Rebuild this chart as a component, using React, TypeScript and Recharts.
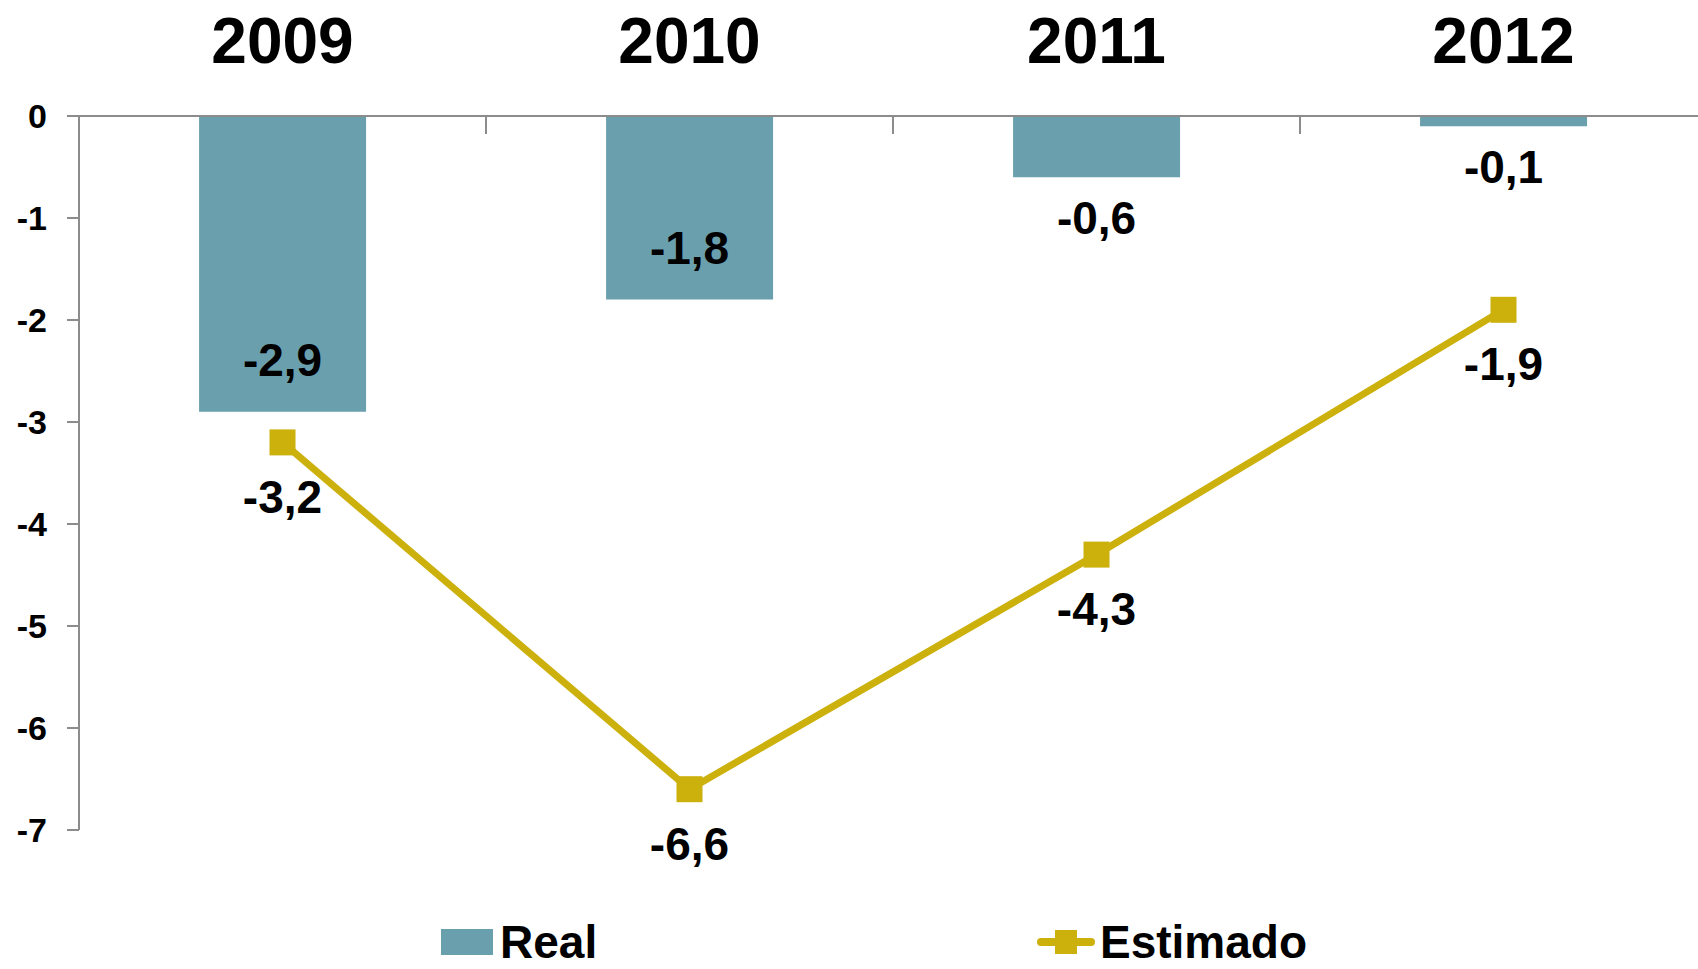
import React from 'react';
import { ComposedChart, Bar, Line, XAxis, YAxis, Legend, LabelList } from 'recharts';

const years = ['2009', '2010', '2011', '2012'];
const realValues = [-2.9, -1.8, -0.6, -0.1];
const estimatedValues = [-3.2, -6.6, -4.3, -1.9];
const yTicks = [0, -1, -2, -3, -4, -5, -6, -7];
const seriesNames = { real: 'Real', estimado: 'Estimado' };
const legendOrder = ['real', 'estimado'];

const data = years.map((year, i) => ({ year, real: realValues[i], estimado: estimatedValues[i] }));

const FONT = '"Liberation Sans", Arial, sans-serif';
const BAR_COLOR = '#6A9FAE';
const LINE_COLOR = '#CCB00C';
const AXIS_COLOR = '#8C8C8C';
const YEAR_TICK_MARGIN = 53;

const fmt = (v: number) => v.toFixed(1).replace('.', ',');

const YearTick = (props: any) => {
  const { x, y, payload } = props;
  const off = payload && typeof payload.offset === 'number' ? payload.offset : 0;
  const axisY = y + YEAR_TICK_MARGIN;
  return (
    <g>
      <text x={x} y={y} textAnchor="middle" fontSize={64} fontWeight={700} fontFamily={FONT} fill="#000">
        {payload.value}
      </text>
      <line x1={x - off} x2={x - off} y1={axisY} y2={axisY + 18} stroke={AXIS_COLOR} strokeWidth={2} />
    </g>
  );
};

const YTick = (props: any) => {
  const { x, y, payload } = props;
  return (
    <text x={x} y={y} dy="0.36em" textAnchor="end" fontSize={34} fontWeight={700} fontFamily={FONT} fill="#000">
      {String(payload.value)}
    </text>
  );
};

const BarValueLabel = (props: any) => {
  const { x, y, width, height, value } = props;
  const end = Math.max(y, y + height);
  const cx = x + width / 2;
  const cy = Math.abs(value) >= 1 ? end - 52 : end + 40;
  return (
    <text x={cx} y={cy} dy="0.36em" textAnchor="middle" fontSize={46} fontWeight={700} fontFamily={FONT} fill="#000">
      {fmt(value)}
    </text>
  );
};

const LineValueLabel = (props: any) => {
  const { x, y, value } = props;
  return (
    <text x={x} y={y + 54} dy="0.36em" textAnchor="middle" fontSize={46} fontWeight={700} fontFamily={FONT} fill="#000">
      {fmt(value)}
    </text>
  );
};

const SquareDot = (props: any) => {
  const { cx, cy, index } = props;
  if (cx == null || cy == null) return null;
  return <rect key={`dot-${index}`} x={cx - 13} y={cy - 13} width={26} height={26} fill={LINE_COLOR} />;
};

const renderLegend = (props: any) => {
  const payload = [...(props.payload || [])].sort(
    (a: any, b: any) => legendOrder.indexOf(a.dataKey) - legendOrder.indexOf(b.dataKey)
  );
  return (
    <div style={{ display: 'flex', alignItems: 'center', paddingLeft: 441, fontFamily: FONT, fontWeight: 700, fontSize: 46, lineHeight: '44px', color: '#000' }}>
      {payload.map((entry: any, i: number) => {
        const isLine = entry.dataKey === 'estimado';
        return (
          <div key={i} style={{ display: 'flex', alignItems: 'center', width: isLine ? 400 : 596 }}>
            {isLine ? (
              <svg width={58} height={28} style={{ marginRight: 5 }}>
                <line x1={4} x2={54} y1={14} y2={14} stroke={LINE_COLOR} strokeWidth={8} strokeLinecap="round" />
                <rect x={18} y={2} width={22} height={24} fill={LINE_COLOR} />
              </svg>
            ) : (
              <svg width={52} height={26} style={{ marginRight: 7 }}>
                <rect x={0} y={0} width={52} height={26} fill={BAR_COLOR} />
              </svg>
            )}
            <span>{entry.value}</span>
          </div>
        );
      })}
    </div>
  );
};

export default function App() {
  return (
    <div style={{ position: 'absolute', left: 0, top: 0, width: 1698, height: 969, overflow: 'hidden', background: '#fff' }}>
      <ComposedChart
        width={1707}
        height={969}
        data={data}
        margin={{ top: 0, right: 0, bottom: 139, left: 0 }}
        barCategoryGap="29.5%"
      >
        <XAxis
          dataKey="year"
          orientation="top"
          height={116}
          tickSize={0}
          tickLine={false}
          tickMargin={YEAR_TICK_MARGIN}
          axisLine={{ stroke: AXIS_COLOR, strokeWidth: 2 }}
          tick={<YearTick />}
          interval={0}
        />
        <YAxis
          type="number"
          domain={[-7, 0]}
          ticks={yTicks}
          width={79}
          tickSize={12}
          tickMargin={20}
          axisLine={{ stroke: AXIS_COLOR, strokeWidth: 2 }}
          tickLine={{ stroke: AXIS_COLOR, strokeWidth: 2 }}
          tick={<YTick />}
          interval={0}
        />
        <Legend
          layout="horizontal"
          verticalAlign="middle"
          align="center"
          content={renderLegend}
          wrapperStyle={{ position: 'absolute', top: 920, left: 0, width: 1698, height: 44 }}
        />
        <Bar dataKey="real" name={seriesNames.real} fill={BAR_COLOR} isAnimationActive={false}>
          <LabelList dataKey="real" content={<BarValueLabel />} />
        </Bar>
        <Line
          dataKey="estimado"
          name={seriesNames.estimado}
          stroke={LINE_COLOR}
          strokeWidth={7}
          dot={<SquareDot />}
          activeDot={false}
          isAnimationActive={false}
        >
          <LabelList dataKey="estimado" content={<LineValueLabel />} />
        </Line>
      </ComposedChart>
    </div>
  );
}
